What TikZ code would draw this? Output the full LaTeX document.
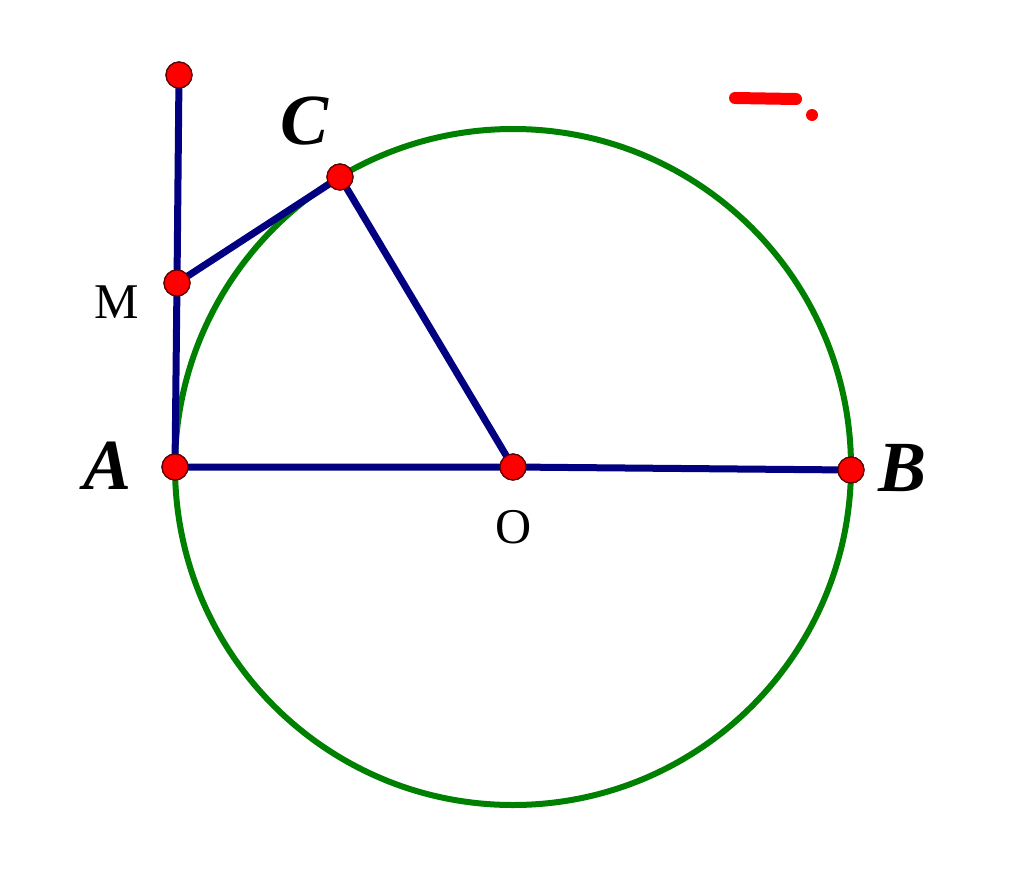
\documentclass[tikz,border=0pt]{standalone}
\usepackage{fontspec}
\setmainfont{Liberation Serif}
\begin{document}
\begin{tikzpicture}[x=1pt,y=-1pt,
  seg/.style={draw={rgb,255:red,0;green,0;blue,128},line width=7pt},
  circ/.style={draw={rgb,255:red,0;green,128;blue,0},line width=6pt},
  pt/.style={circle,fill=red,draw={rgb,255:red,90;green,0;blue,0},line width=1.2pt,minimum size=26pt,inner sep=0pt},
  biglab/.style={font=\fontsize{72}{72}\selectfont\bfseries\itshape},
  smalllab/.style={font=\fontsize{50}{50}\selectfont}]
\useasboundingbox (0,0) rectangle (1024,870);
\coordinate (Oc) at (513,467);
\draw[circ] (Oc) circle (338);
\node[pt] (T) at (179,75) {};
\node[pt] (C) at (340,177) {};
\node[pt] (M) at (177,283) {};
\node[pt] (A) at (175,467) {};
\node[pt] (O) at (513,467) {};
\node[pt] (B) at (851,470) {};
\draw[seg] (T.center) -- (M.center) -- (A.center) -- (O.center) -- (B.center);
\draw[seg] (M.center) -- (C.center) -- (O.center);
\foreach \p in {T,C,M,A,O,B} \node[pt] at (\p) {};
\node[biglab] (lC) at (305,121) {C};
\node[biglab] (lA) at (108,466) {A};
\node[biglab] (lB) at (902,468) {B};
\node[smalllab] (lM) at (117,302) {M};
\node[smalllab] (lO) at (514,527) {O};
\coordinate (r1) at (735,98);
\coordinate (r2) at (796,99);
\draw[red,line width=12pt,line cap=round] (r1) -- (r2);
\node[circle,fill=red,inner sep=0pt,minimum size=12pt] (rd) at (812,115) {};
\end{tikzpicture}
\end{document}
